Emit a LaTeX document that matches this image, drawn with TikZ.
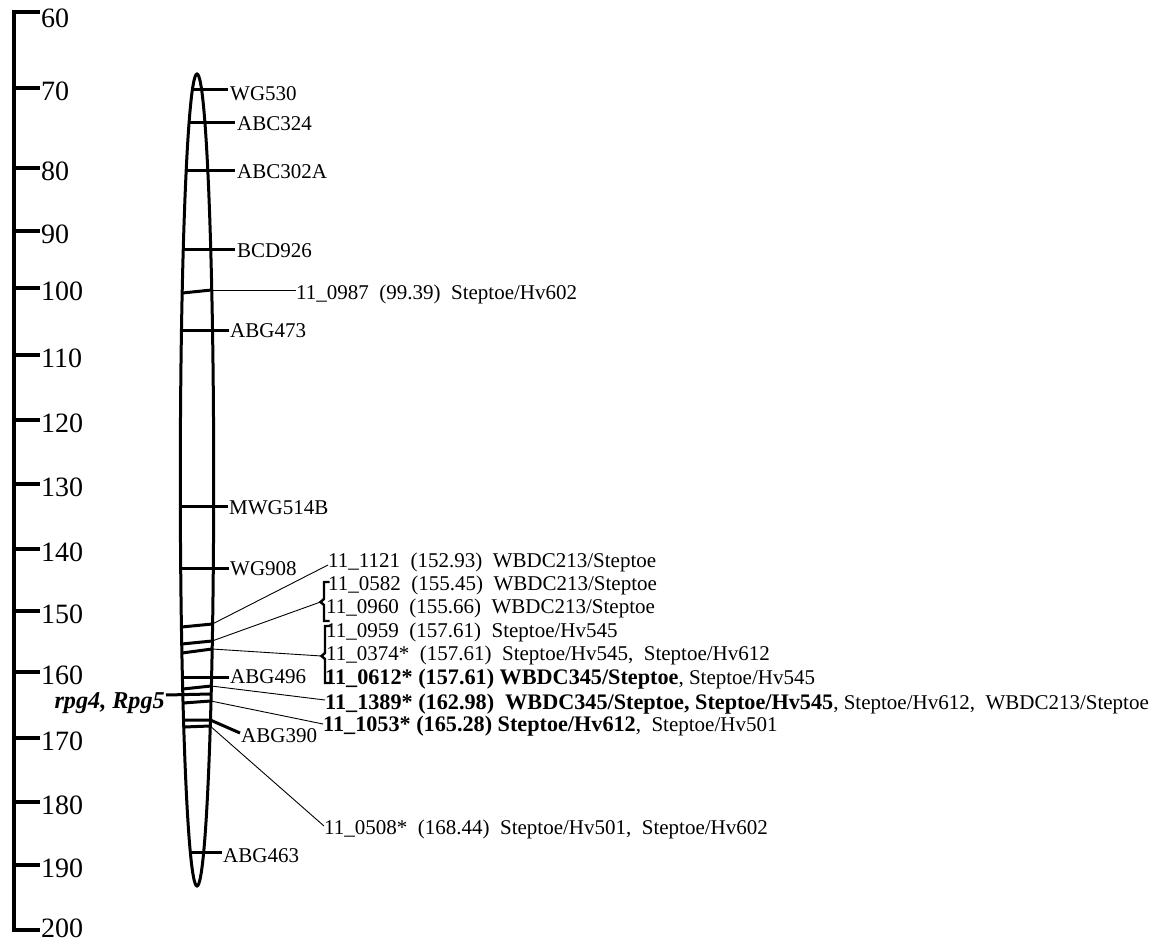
\documentclass[tikz,border=0pt]{standalone}
\usepackage{fontspec}
\setmainfont{Liberation Serif}
\usetikzlibrary{shapes.geometric}
\newcommand{\bfpart}[1]{{\fontsize{22.2}{25}\selectfont\bfseries #1}}
\begin{document}
\begin{tikzpicture}[x=1pt,y=-1pt,
  axisline/.style={line width=3.5pt},
  heavy/.style={line width=3pt},
  fine/.style={line width=0.9pt},
  brk/.style={line width=2.4pt},
  axlab/.style={font=\fontsize{28}{33}\selectfont,inner sep=0pt,anchor=base west},
  mk/.style={font=\fontsize{21}{25}\selectfont,inner sep=0pt,anchor=base west},
]
\useasboundingbox[fill=white] (0,0) rectangle (1160,944);

% ---------------- scale axis
\draw[axisline] (40,12) -- (14,12) -- (14,930) -- (40,930);
\foreach \y in {88,168,231,288,355,420,484,549,611,672,738,802,865}
  \draw[axisline] (14,\y) -- (40,\y);
\foreach \v/\y in {60/15,70/88,80/168,90/231,100/288,110/355,120/420,130/484,140/549,150/611,160/672,170/738,180/802,190/865,200/925}
  \node[axlab] (ax\v) at (41,\y+12.5) {\v};

% ---------------- chromosome
\node[draw,ellipse,line width=3pt,minimum width=33.4pt,minimum height=812pt,inner sep=0pt] (chr) at (197,480) {};

% ---------------- named markers (tick + label)
\foreach \nm/\yl/\xa/\xb/\xt/\yt in {
  WG530/90/193/228/230/101,
  ABC324/123/189/235/237/131,
  ABC302A/171/186/235/237/178.5,
  BCD926/250/183.5/235/237/258,
  ABG473/330/181.5/229/230/337.5,
  MWG514B/506/180.5/228/229/514,
  WG908/568/180.5/229/230/575,
  ABG496/677/182.5/229/230/683.5,
  ABG463/852/190.5/222/223/862}
{
  \node[mk] (m\nm) at (\xt,\yt) {\nm};
  \coordinate (s\nm) at (\xa,\yl);
  \coordinate (e\nm) at (\xb,\yl);
  \draw[heavy] (s\nm) -- (e\nm);
}

% ABG390 (angled)
\coordinate (sABG390) at (183.7,720);
\coordinate (rABG390) at (210.3,720);
\coordinate (eABG390) at (240,733);
\draw[heavy] (sABG390) -- (rABG390) -- (eABG390);
\node[mk] (mABG390) at (241,742) {ABG390};

% ---------------- resistance locus
\node[font=\fontsize{24.2}{28}\selectfont\bfseries\itshape,inner sep=0pt,anchor=base east] (rpg) at (165,708) {rpg4, Rpg5};
\coordinate (rpgL) at (166,695);
\coordinate (rpgR) at (211,694);
\draw[heavy] (rpgL) -- (rpgR);

% ---------------- SNP markers: bars across chromosome
\coordinate (l0987) at (182.4,293);  \coordinate (r0987) at (211.6,290);
\coordinate (l1121) at (181.6,627);  \coordinate (r1121) at (212.4,624);
\coordinate (lB1) at (181.9,644);    \coordinate (rB1) at (212.1,641);
\coordinate (lB2) at (182,653);      \coordinate (rB2) at (212,649);
\coordinate (l1389) at (182.8,689);  \coordinate (r1389) at (211.2,686);
\coordinate (l1053) at (183.2,703);  \coordinate (r1053) at (210.8,701);
\coordinate (l0508) at (183.9,727);  \coordinate (r0508) at (210.1,726);
\foreach \k in {0987,1121,B1,B2,1389,1053,0508}
  \draw[heavy] (l\k) -- (r\k);

% ---------------- SNP labels
\node[mk] (t0987) at (296,300) {11\_0987\ \ (99.39)\ \ Steptoe/Hv602};
\node[mk] (t1121) at (328,567) {11\_1121\ \ (152.93)\ \ WBDC213/Steptoe};
\node[mk] (t0582) at (328,590) {11\_0582\ \ (155.45)\ \ WBDC213/Steptoe};
\node[mk] (t0960) at (326,613) {11\_0960\ \ (155.66)\ \ WBDC213/Steptoe};
\node[mk] (t0959) at (326,637) {11\_0959\ \ (157.61)\ \ Steptoe/Hv545};
\node[mk] (t0374) at (326,660) {11\_0374*\ \ (157.61)\ \ Steptoe/Hv545,\ \ Steptoe/Hv612};
\node[mk] (t0612) at (325,684) {\bfpart{11\_0612* (157.61) WBDC345/Steptoe}, Steptoe/Hv545};
\node[mk] (t1389) at (325,709) {\bfpart{11\_1389* (162.98)\ \ WBDC345/Steptoe, Steptoe/Hv545}, Steptoe/Hv612,\ \ WBDC213/Steptoe};
\node[mk] (t1053) at (323,731.5) {\bfpart{11\_1053* (165.28) Steptoe/Hv612},\ \ Steptoe/Hv501};
\node[mk] (t0508) at (324,834.5) {11\_0508*\ \ (168.44)\ \ Steptoe/Hv501,\ \ Steptoe/Hv602};

% connector end points
\coordinate (c0987) at (296,290);
\coordinate (c1121) at (328,565);
\coordinate (c1389) at (325,700);
\coordinate (c1053) at (323,724);
\coordinate (c0508) at (324,826);
\coordinate (nB1) at (320.5,602);
\coordinate (nB2) at (321.5,656);

% brackets
\draw[brk] (329.5,582) -- (324,582) -- (324,599) -- (nB1) -- (324,605) -- (324,621) -- (329.5,621);
\draw[brk] (330.5,626) -- (325,626) -- (325,653) -- (nB2) -- (325,659) -- (325,683) -- (330.5,683);

% thin connectors
\draw[fine] (r0987) -- (c0987);
\draw[fine] (r1121) -- (c1121);
\draw[fine] (rB1) -- (nB1);
\draw[fine] (rB2) -- (nB2);
\draw[fine] (r1389) -- (c1389);
\draw[fine] (r1053) -- (c1053);
\draw[fine] (r0508) -- (c0508);
\end{tikzpicture}
\end{document}
